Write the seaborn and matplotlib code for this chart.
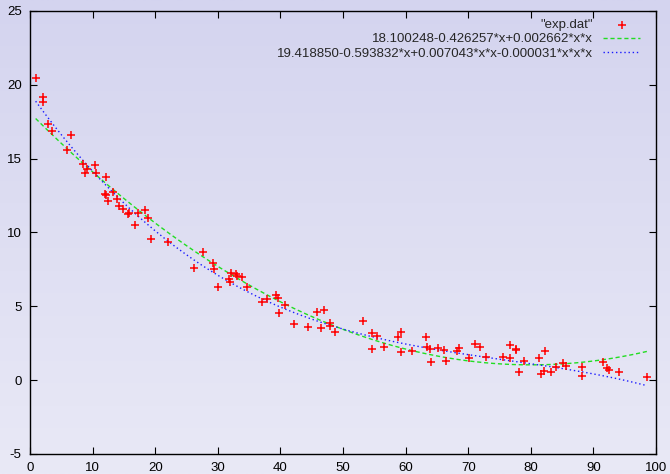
import numpy as np
import pandas as pd
import matplotlib
matplotlib.use("Agg")
import matplotlib.pyplot as plt
from matplotlib.colors import LinearSegmentedColormap
import seaborn as sns

exp_x = [0.9, 2.1, 2.0, 2.8, 3.5, 6.5, 5.95, 8.5, 8.75, 9.1, 10.4, 10.5, 12.2, 12.0, 12.2,
         12.4, 13.3, 13.9, 14.15, 14.8, 15.65, 15.86, 17.2, 18.3, 18.8, 16.75, 19.3, 22.1,
         27.6, 26.2, 29.2, 29.4, 30.1, 32.1, 31.85, 31.9, 32.9, 33.0, 33.8, 34.6, 37.0,
         37.8, 39.3, 39.6, 39.7, 40.8, 42.1, 44.4, 45.8, 47.0, 46.5, 47.85, 47.85, 48.7,
         53.2, 54.6, 54.6, 55.5, 56.6, 58.8, 59.3, 59.3, 61.1, 63.3, 63.4, 63.9, 64.0,
         65.2, 66.1, 66.4, 68.2, 68.5, 70.1, 71.1, 71.9, 72.9, 75.6, 76.6, 76.6, 77.6,
         77.7, 78.05, 78.9, 81.3, 82.2, 81.6, 82.1, 83.3, 84.1, 85.2, 85.6, 88.2, 88.2,
         91.6, 92.1, 92.5, 94.1, 98.6]
exp_y = [20.44, 19.18, 18.84, 17.38, 16.86, 16.59, 15.6, 14.67, 14.02, 14.27, 14.6, 14.04,
         13.77, 12.64, 12.53, 12.13, 12.76, 12.28, 11.81, 11.56, 11.22, 11.34, 11.29, 11.52,
         11.0, 10.48, 9.53, 9.33, 8.65, 7.62, 7.96, 7.55, 6.29, 7.23, 6.87, 6.65, 7.19, 7.08,
         6.96, 6.29, 5.27, 5.5, 5.75, 5.59, 4.53, 5.12, 3.79, 3.58, 4.62, 4.73, 3.56, 3.85,
         3.7, 3.25, 4.01, 3.18, 2.14, 3.0, 2.25, 2.93, 3.25, 1.92, 1.98, 2.95, 2.23, 2.1,
         1.26, 2.21, 2.07, 1.33, 1.96, 2.19, 1.49, 2.46, 2.23, 1.58, 1.6, 2.41, 1.53, 2.14,
         2.05, 0.56, 1.31, 1.51, 2.0, 0.45, 0.65, 0.54, 0.92, 1.15, 0.97, 0.86, 0.25, 1.22,
         0.83, 0.7, 0.54, 0.23]

# fitted polynomial coefficients as printed in the legend (highest power first)
quad_coef = [0.002662, -0.426257, 18.100248]
cubic_coef = [-0.000031, 0.007043, -0.593832, 19.418850]
quad_label = "18.100248-0.426257*x+0.002662*x*x"
cubic_label = "19.418850-0.593832*x+0.007043*x*x-0.000031*x*x*x"

x_ticks = [0, 10, 20, 30, 40, 50, 60, 70, 80, 90, 100]
y_ticks = [-5, 0, 5, 10, 15, 20, 25]

sns.set_style("ticks")
plt.rcParams['font.family'] = ['Liberation Sans', 'DejaVu Sans']
plt.rcParams['axes.unicode_minus'] = False

pts = pd.DataFrame({"x": exp_x, "y": exp_y})
xs = np.linspace(min(exp_x), max(exp_x), 200)
curves = pd.DataFrame({"x": xs,
                       "quad": np.polyval(quad_coef, xs),
                       "cubic": np.polyval(cubic_coef, xs)})

fig = plt.figure(figsize=(6.7, 4.74), dpi=100)

# lavender gradient behind everything
bg = fig.add_axes([0, 0, 1, 1], zorder=-10)
cmap = LinearSegmentedColormap.from_list("lav", ["#d4d4ef", "#e9e9f6"])
bg.imshow(np.linspace(0, 1, 256).reshape(-1, 1), aspect="auto", cmap=cmap,
          extent=[0, 1, 0, 1])
bg.set_axis_off()

ax = fig.add_axes([30 / 670, 1 - 454 / 474, 626 / 670, 443 / 474])
ax.set_facecolor("none")

sns.scatterplot(data=pts, x="x", y="y", marker="+", s=40, color="#ff0000",
                linewidth=1.1, label='"exp.dat"', ax=ax, zorder=3)
sns.lineplot(data=curves, x="x", y="quad", color="#22dd22", linewidth=1.0,
             dashes=False, label=quad_label, ax=ax, zorder=2)
sns.lineplot(data=curves, x="x", y="cubic", color="#1a1aff", linewidth=1.0,
             dashes=False, label=cubic_label, ax=ax, zorder=2)
ax.lines[0].set_dashes([3, 2])
ax.lines[1].set_dashes([1, 2])

ax.set_xlim(0, 100)
ax.set_ylim(-5, 25)
ax.set_xticks(x_ticks)
ax.set_yticks(y_ticks)
ax.set_xlabel("")
ax.set_ylabel("")
ax.tick_params(direction="in", length=5, width=0.8, top=True, right=True,
               labelsize=9.5, colors="black", pad=6)
for sp in ax.spines.values():
    sp.set_visible(True)
    sp.set_color("black")
    sp.set_linewidth(1.0)

leg = ax.legend(loc="upper right", bbox_to_anchor=(0.975, 0.982), frameon=False,
                markerfirst=False, fontsize=9.5, handlelength=2.8, handletextpad=0.8,
                labelspacing=0.15, borderaxespad=0, borderpad=0)

fig.savefig("out.png", dpi=100)
